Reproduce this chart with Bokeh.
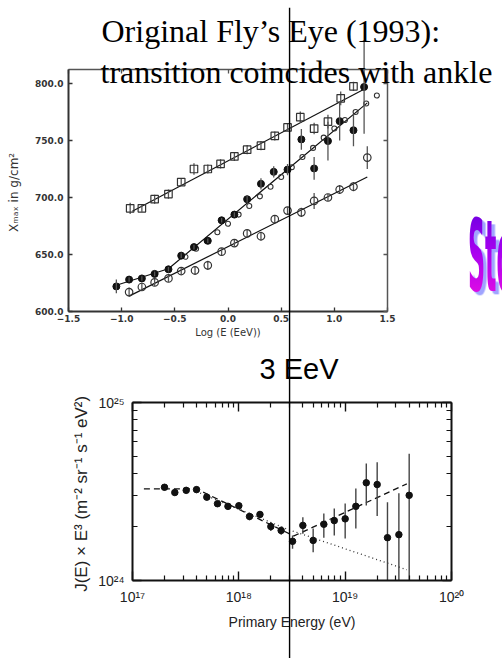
import math
from bokeh.plotting import figure
from bokeh.models import (Range1d, LinearAxis, LogAxis, FixedTicker, Label, Span, Div)
from bokeh.embed import file_html
from bokeh.resources import INLINE

# ---------------- top panel: Xmax (g/cm^2) vs log10(E / EeV) ----------------
sq_logE = [-0.92, -0.81, -0.69, -0.56, -0.44, -0.32, -0.19, -0.07, 0.06, 0.18, 0.31, 0.44,
           0.56, 0.68, 0.81, 0.94, 1.06, 1.18]
sq_xmax = [690.5, 690.5, 698.5, 703.0, 713.5, 725.0, 725.0, 729.5, 736.0, 742.0, 745.5, 754.0,
           761.5, 770.5, 760.5, 766.5, 787.0, 797.5]
sq_err = [5, 3, 4, 4, 3, 5, 4, 4, 4, 4, 4, 4, 3, 5, 5, 6, 6, 4]

fc_logE = [-1.05, -0.93, -0.81, -0.69, -0.56, -0.44, -0.32, -0.19, -0.06, 0.06, 0.18, 0.31,
           0.43, 0.56, 0.69, 0.81, 0.94, 1.05, 1.18, 1.28]
fc_xmax = [622.0, 628.0, 629.0, 633.0, 637.0, 649.0, 656.5, 662.0, 680.0, 685.0, 698.5, 712.0,
           722.5, 724.5, 751.0, 725.5, 749.5, 767.0, 759.0, 797.0]
fc_err = [6, 2, 2, 2, 2, 2, 2, 2, 2, 2, 3, 5, 5, 5, 9, 10, 17, 17, 14, 41]

sm_logE = [-0.4, -0.3, -0.2, -0.1, 0.0, 0.1, 0.2, 0.3, 0.4, 0.5, 0.6, 0.7, 0.8, 0.9, 1.0,
           1.1, 1.2, 1.3, 1.4]
sm_xmax = [648.0, 655.0, 662.0, 669.5, 677.0, 685.0, 692.5, 701.0, 709.5, 718.0, 726.5, 735.5,
           743.5, 752.5, 760.5, 768.0, 775.0, 782.5, 789.5]

oc_logE = [-0.93, -0.81, -0.69, -0.56, -0.44, -0.31, -0.19, -0.06, 0.06, 0.18, 0.31, 0.44,
           0.56, 0.69, 0.81, 0.94, 1.05, 1.18, 1.31]
oc_xmax = [617.0, 621.5, 625.5, 629.0, 635.5, 636.0, 640.5, 652.5, 660.0, 668.5, 666.0, 681.0,
           688.5, 687.0, 697.0, 700.0, 707.0, 709.5, 735.0]
oc_err = [4, 3, 3, 3, 3, 4, 4, 3, 3, 3, 4, 3, 3, 4, 7, 3, 4, 4, 10]

fit_up_x, fit_up_y = [-0.90, 1.27], [688.0, 794.5]
fit_mid_x, fit_mid_y = [-1.05, -0.56, 1.31], [623.0, 637.5, 783.0]
fit_lo_x, fit_lo_y = [-0.93, 1.31], [613.5, 718.0]

top_x_ticks = [-1.5, -1.0, -0.5, 0.0, 0.5, 1.0, 1.5]
top_x_labels = ["\u22121.5", "\u22121.0", "\u22120.5", "0.0", "0.5", "1.0", "1.5"]
top_y_ticks = [600, 650, 700, 750, 800]
top_y_labels = ["600.0", "650.0", "700.0", "750.0", "800.0"]

# ---------------- bottom panel: J(E) x E^3 vs energy ----------------
energy_eV = [2.0e17, 2.5e17, 3.2e17, 4.0e17, 5.0e17, 6.3e17, 7.9e17, 1.0e18, 1.26e18, 1.58e18,
             2.0e18, 2.5e18, 3.2e18, 4.0e18, 5.0e18, 6.3e18, 7.9e18, 1.0e19, 1.26e19, 1.58e19,
             2.0e19, 2.5e19, 3.2e19, 4.0e19]
flux_e24 = [3.34, 3.12, 3.21, 3.24, 2.94, 2.70, 2.61, 2.63, 2.29, 2.35, 2.01, 1.91, 1.66, 2.04,
            1.68, 2.07, 2.17, 2.22, 2.61, 3.54, 3.46, 1.74, 1.81, 3.01]
flux_hi_e24 = [3.48, 3.25, 3.34, 3.37, 3.06, 2.81, 2.72, 2.74, 2.40, 2.46, 2.13, 2.01, 1.79, 2.27,
               1.96, 2.38, 2.54, 2.71, 3.29, 4.54, 4.62, 2.75, 3.09, 5.15]
flux_lo_e24 = [3.20, 3.00, 3.08, 3.11, 2.82, 2.59, 2.50, 2.52, 2.18, 2.24, 1.90, 1.81, 1.51, 1.83,
               1.44, 1.74, 1.79, 1.72, 1.96, 2.64, 2.30, 0.5, 0.5, 0.5]
dash_E, dash_J = [1.28e17, 4.0e17, 3.3e18, 3.8e19], [3.27, 3.27, 1.78, 3.49]
dot_E, dot_J = [4.0e17, 2.8e18, 3.8e19], [3.16, 1.95, 1.15]
ankle_eV = 3.0e18

bot_x_ticks = [1e17, 1e18, 1e19, 1e20]
bot_x_labels = ["10\u00b9\u2077", "10\u00b9\u2078", "10\u00b9\u2079", "10\u00b2\u2070"]
bot_y_ticks = [1e24, 1e25]
bot_y_labels = ["10\u00b2\u2074", "10\u00b2\u2075"]

title_1 = "Original Fly\u2019s Eye (1993):"
title_2 = "transition coincides with ankle"
ankle_text = "3 EeV"
wordart_text = "Sto"

# ---------------- layout constants (pixels) ----------------
W, H = 502, 658
H_TOP = 345
H_BOT = H - H_TOP
T_L, T_R, T_T, T_B = 68, 387, 69, 311            # top frame edges (page px)
B_L, B_R, B_T, B_B = 132, 451, 402, 580          # bottom frame edges (page px)
TOP_Y0, TOP_Y1 = 600.0, 812.3
LINE_TOP = 7                                      # where the ankle line starts
BASELINE_FIX = 0.37                               # label anchor correction (fraction of font size)
E24 = 1e24


def abs_pos(left, top):
    return {"position": "absolute", "left": f"{left}px", "top": f"{top}px"}


# ================= top figure (axes + data) =================
top = figure(width=W, height=H_TOP, output_backend="svg", toolbar_location=None,
             x_range=Range1d(-1.5, 1.5), y_range=Range1d(TOP_Y0, TOP_Y1),
             min_border_left=T_L, min_border_right=W - T_R,
             min_border_top=T_T, min_border_bottom=H_TOP - T_B,
             background_fill_color="white", border_fill_color="white",
             outline_line_color=None, styles=abs_pos(0, 0))
top.xgrid.visible = False
top.ygrid.visible = False


def style_top_axis(ax, color, width):
    ax.axis_line_color = color
    ax.axis_line_width = width
    ax.major_tick_in = 4
    ax.major_tick_out = 0
    ax.major_tick_line_color = color
    ax.major_tick_line_width = 1.3
    ax.minor_tick_line_color = None
    ax.major_label_text_font = "DejaVu Sans"
    ax.major_label_text_font_size = "9px"
    ax.major_label_text_font_style = "bold"
    ax.major_label_text_color = "#333333"
    ax.axis_label_text_font = "DejaVu Sans"
    ax.axis_label_text_font_style = "normal"
    ax.axis_label_text_color = "#333333"


xb = top.xaxis[0]
style_top_axis(xb, "#333333", 2)
xb.ticker = FixedTicker(ticks=top_x_ticks)
xb.major_label_overrides = dict(zip(top_x_ticks, top_x_labels))
xb.major_label_standoff = 3
xb.axis_label = "Log (E (EeV))"
xb.axis_label_text_font_size = "10px"
xb.axis_label_standoff = 2

yl = top.yaxis[0]
style_top_axis(yl, "#333333", 2)
yl.ticker = FixedTicker(ticks=top_y_ticks)
yl.major_label_overrides = dict(zip(top_y_ticks, top_y_labels))
yl.major_label_standoff = 5
yl.axis_label = "X\u2098\u2090\u2093  in g/cm\u00b2"
yl.axis_label_text_font_size = "12px"
yl.axis_label_standoff = 11

xa = LinearAxis(ticker=FixedTicker(ticks=top_x_ticks))
style_top_axis(xa, "#555555", 1.5)
xa.major_label_text_color = None
top.add_layout(xa, "above")
yr = LinearAxis(ticker=FixedTicker(ticks=top_y_ticks))
style_top_axis(yr, "#555555", 1.5)
yr.major_label_text_color = None
top.add_layout(yr, "right")

for fx, fy in [(fit_up_x, fit_up_y), (fit_mid_x, fit_mid_y), (fit_lo_x, fit_lo_y)]:
    top.line(fx, fy, line_color="#111111", line_width=1.2)

for xs, ys, es in [(sq_logE, sq_xmax, sq_err), (oc_logE, oc_xmax, oc_err)]:
    top.segment(x0=xs, y0=[y - e for y, e in zip(ys, es)], x1=xs,
                y1=[y + e for y, e in zip(ys, es)], line_color="#555555", line_width=1.3)

top.scatter(sq_logE, sq_xmax, marker="square", size=7.5, fill_color=None,
            line_color="#333333", line_width=1.2)
top.scatter(oc_logE, oc_xmax, marker="circle", size=7.5, fill_color=None,
            line_color="#333333", line_width=1.2)
top.scatter(sm_logE, sm_xmax, marker="circle", size=5, fill_color=None,
            line_color="#333333", line_width=1.1)
top.scatter(fc_logE, fc_xmax, marker="circle", size=7, fill_color="#111111",
            line_color="#111111")

# ================= bottom figure (axes + data) =================
bot = figure(width=W, height=H_BOT, output_backend="svg", toolbar_location=None,
             x_axis_type="log", y_axis_type="log",
             x_range=Range1d(1e17, 1e20), y_range=Range1d(1e24, 1e25),
             min_border_left=B_L, min_border_right=W - B_R,
             min_border_top=B_T - H_TOP, min_border_bottom=H - B_B,
             background_fill_color="white", border_fill_color="white",
             outline_line_color=None, styles=abs_pos(0, H_TOP))
bot.xgrid.visible = False
bot.ygrid.visible = False

x_minor = [k * 10 ** d for d in (17, 18, 19) for k in range(2, 10)]
y_minor = [k * 1e24 for k in range(2, 10)]


def style_bot_axis(ax):
    ax.axis_line_color = "#111111"
    ax.axis_line_width = 2
    ax.major_tick_in = 9
    ax.major_tick_out = 0
    ax.minor_tick_in = 5
    ax.minor_tick_out = 0
    ax.major_tick_line_color = "#111111"
    ax.minor_tick_line_color = "#111111"
    ax.major_tick_line_width = 1.4
    ax.minor_tick_line_width = 1.2
    ax.major_label_text_font = "Liberation Sans"
    ax.major_label_text_font_size = "14px"
    ax.major_label_text_color = "#222222"
    ax.axis_label_text_font = "Liberation Sans"
    ax.axis_label_text_font_style = "normal"
    ax.axis_label_text_color = "#222222"


bx = bot.xaxis[0]
style_bot_axis(bx)
bx.ticker = FixedTicker(ticks=bot_x_ticks, minor_ticks=x_minor)
bx.major_label_overrides = dict(zip(bot_x_ticks, bot_x_labels))
bx.major_label_standoff = 8
bx.axis_label = "Primary Energy (eV)"
bx.axis_label_text_font_size = "14px"
bx.axis_label_standoff = 6

by = bot.yaxis[0]
style_bot_axis(by)
by.ticker = FixedTicker(ticks=bot_y_ticks, minor_ticks=y_minor)
by.major_label_overrides = dict(zip(bot_y_ticks, bot_y_labels))
by.major_label_standoff = 8
by.axis_label = "J(E) \u00d7 E\u00b3  (m\u207b\u00b2 sr\u207b\u00b9 s\u207b\u00b9 eV\u00b2)"
by.axis_label_text_font_size = "17px"
by.axis_label_standoff = 4

ba = LogAxis(ticker=FixedTicker(ticks=bot_x_ticks, minor_ticks=x_minor))
style_bot_axis(ba)
ba.major_label_text_color = None
bot.add_layout(ba, "above")
br = LogAxis(ticker=FixedTicker(ticks=bot_y_ticks, minor_ticks=y_minor))
style_bot_axis(br)
br.major_label_text_color = None
bot.add_layout(br, "right")

bot.line(dash_E, [v * E24 for v in dash_J], line_color="#111111", line_width=1.3, line_dash="6 4")
bot.line(dot_E, [v * E24 for v in dot_J], line_color="#333333", line_width=1.3, line_dash="1 3")
bot.segment(x0=energy_eV, y0=[v * E24 for v in flux_lo_e24], x1=energy_eV,
            y1=[v * E24 for v in flux_hi_e24], line_color="#444444", line_width=1.4)
bot.scatter(energy_eV, [v * E24 for v in flux_e24], marker="circle", size=6.5,
            fill_color="#111111", line_color="#111111")

# ================= transparent overlay across the whole slide =================
# Its scales reproduce the top panel's mapping, so marks may leave the top frame.
ppx = (T_R - T_L) / 3.0
ppy = (T_B - T_T) / (TOP_Y1 - TOP_Y0)
ov = figure(width=W, height=H, output_backend="svg", toolbar_location=None,
            x_range=Range1d(-1.5 - T_L / ppx, -1.5 + (W - T_L) / ppx),
            y_range=Range1d(TOP_Y0 - (H - T_B) / ppy, TOP_Y0 + (T_B - LINE_TOP) / ppy),
            x_axis_location=None, y_axis_location=None,
            min_border_left=0, min_border_right=0, min_border_top=LINE_TOP, min_border_bottom=0,
            background_fill_color=None, border_fill_color=None, outline_line_color=None,
            styles=abs_pos(0, 0))
ov.xgrid.visible = False
ov.ygrid.visible = False

# filled-circle error bars (the last one reaches above the top frame)
ov.segment(x0=fc_logE, y0=[y - e for y, e in zip(fc_xmax, fc_err)], x1=fc_logE,
           y1=[y + e for y, e in zip(fc_xmax, fc_err)], line_color="#555555", line_width=1.3)


def slide_text(txt, left, baseline, font, size):
    # screen units: measured from the overlay frame's bottom-left corner = page (0, 658)
    ov.add_layout(Label(x=left, y=H - baseline + BASELINE_FIX * size,
                        x_units="screen", y_units="screen", text=txt,
                        text_font=font, text_font_size=f"{size}px", text_color="black",
                        text_baseline="alphabetic", text_align="left"))


slide_text(title_1, 101, 42, "Liberation Serif", 32)
slide_text(title_2, 100, 83, "Liberation Serif", 32)
slide_text(ankle_text, 259, 379, "Liberation Sans", 29)

# the 3 EeV line: position taken from the bottom panel's log scale
ppd = (B_R - B_L) / 3.0
ankle_px = B_L + (math.log10(ankle_eV) - 17.0) * ppd
ov.add_layout(Span(location=-1.5 + (ankle_px - T_L) / ppx, dimension="height",
                   line_color="black", line_width=1.4))

# decorative word-art fragment at the right edge of the slide
wa_html = (
    '<div style="width:40px;height:100px;overflow:hidden;position:relative;">'
    '<span style="position:absolute;left:0;top:0;white-space:nowrap;'
    "font-family:'DejaVu Sans Condensed','DejaVu Sans',sans-serif;font-weight:bold;"
    'font-size:30px;line-height:1;transform:scale(0.88,3.35);transform-origin:0 0;'
    'background:linear-gradient(180deg,#6a00e0 0%,#a800f0 45%,#f010e0 100%);'
    '-webkit-background-clip:text;background-clip:text;color:transparent;'
    'filter:drop-shadow(4.5px 1.3px 0 #a0a4ff);">' + wordart_text + '</span></div>'
)
wordart = Div(text=wa_html, width=40, height=100, styles=abs_pos(463, 202))

open("out.html", "w").write(file_html([top, bot, ov, wordart], INLINE))
